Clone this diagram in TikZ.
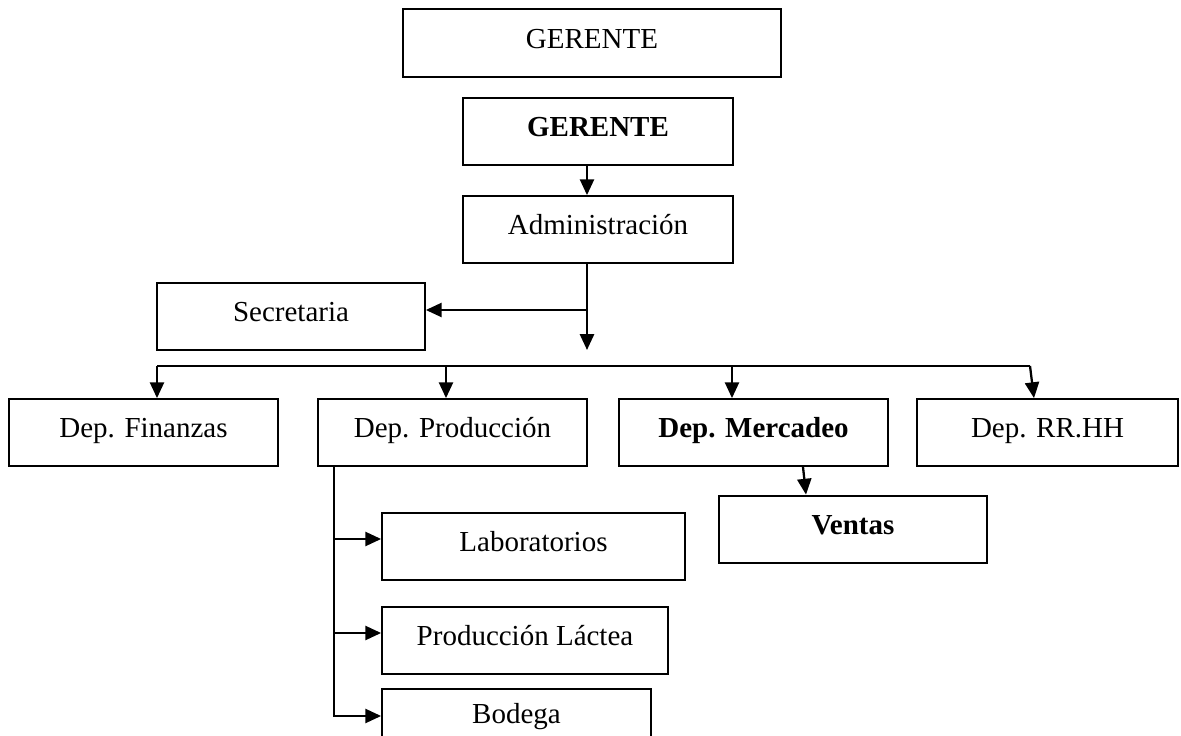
\documentclass[tikz,border=0pt]{standalone}
\usepackage{fontspec}
\setmainfont{Liberation Serif}
\usetikzlibrary{arrows.meta}

\tikzset{
  box/.style 2 args={draw, rectangle, line width=1pt, inner sep=0pt,
    minimum width=#1*0.02cm, minimum height=#2*0.02cm,
    text height=12pt, text depth=6pt,
    font=\fontsize{16.5}{19}\selectfont},
  boldtext/.style={font=\fontsize{16.5}{19}\selectfont\bfseries},
  thickbox/.style={line width=1.6pt},
  link/.style={line width=1.3pt, -{Triangle[length=9pt,width=8pt]}},
  bus/.style={line width=1.3pt}
}

\begin{document}
\begin{tikzpicture}[x=0.02cm, y=-0.02cm]
\useasboundingbox (0,0) rectangle (1181,736);
\clip (0,0) rectangle (1181,736);

% direccion
\node[box={378}{68}] (top) at (592,43) {GERENTE};
\node[box={270}{67}, boldtext] (ger) at (598,131.5) {GERENTE};
\node[box={270}{67}] (adm) at (598,229.5) {Administración};
\node[box={268}{67}] (sec) at (291,316.5) {Secretaria};

% departamentos
\node[box={269}{67}] (fin) at (143.5,432.5) {Dep. Finanzas};
\node[box={269}{67}] (pro) at (452.5,432.5) {Dep. Producción};
\node[box={269}{67}, boldtext] (mer) at (753.5,432.5) {Dep. Mercadeo};
\node[box={261}{67}] (rrh) at (1047.5,432.5) {Dep. RR.HH};
\node[box={268}{67}, boldtext, thickbox] (ven) at (853,529.5) {Ventas};

% produccion
\node[box={303}{67}] (lab) at (533.5,546.5) {Laboratorios};
\node[box={286}{67}] (lac) at (525,640.5) {Producción Láctea};
\node[box={269}{58}] (bod) at (516.5,718) {Bodega};

% conectores
\coordinate (split) at (587,350);
\coordinate (secj) at (587,310);
\coordinate (busL) at (157,366);
\coordinate (busP) at (446,366);
\coordinate (busM) at (732,366);
\coordinate (busR) at (1030,366);
\coordinate (pv) at (334,466);

\draw[link] (ger.south -| split) -- (adm.north -| split);
\draw[link] (adm.south -| split) -- (split);
\draw[link] (secj) -- (secj -| sec.east);
\draw[bus] (busL) -- (busR);
\draw[link] (busL) -- (busL |- fin.north);
\draw[link] (busP) -- (busP |- pro.north);
\draw[link] (busM) -- (busM |- mer.north);
\draw[link] (busR) -- ([xshift=-0.27cm]rrh.north);
\draw[link] ([xshift=0.99cm]mer.south) -- ([xshift=-0.94cm]ven.north);
\draw[link] (pv) |- (bod.west |- 0,716);
\draw[link] (pv |- 0,539) -- (lab.west |- 0,539);
\draw[link] (pv |- 0,633) -- (lac.west |- 0,633);
\end{tikzpicture}
\end{document}
